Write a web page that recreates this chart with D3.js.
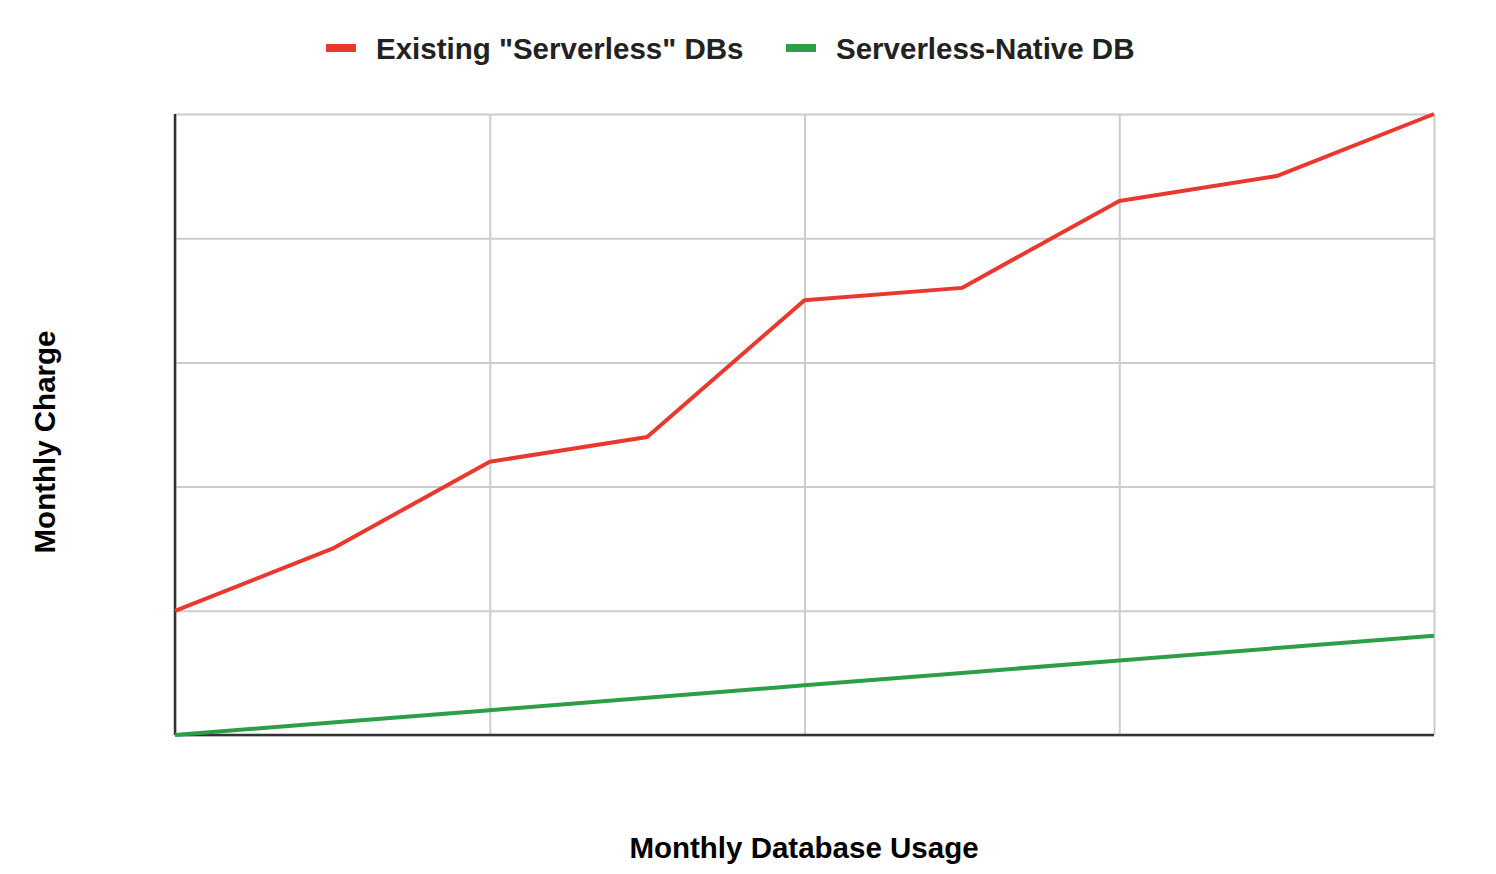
<!DOCTYPE html>
<html><head><meta charset="utf-8">
<script src="https://cdn.jsdelivr.net/npm/d3@7"></script>
<style>body{margin:0;background:#fff}svg{display:block;font-family:"Liberation Sans",Arial,sans-serif}</style>
</head><body><svg id="c" width="1496" height="874"></svg>
<script>
const xSteps = [0,1,2,3,4,5,6,7,8];
const existing = [1.0,1.5,2.2,2.4,3.5,3.6,4.3,4.5,5.0];
const native = [0,0.1,0.2,0.3,0.4,0.5,0.6,0.7,0.8];
const seriesNames = ['Existing "Serverless" DBs','Serverless-Native DB'];
const seriesColors = ['#e8392f','#2d9e47'];
const xGridTicks = [0,2,4,6,8];
const yGridTicks = [0,1,2,3,4,5];

const svg = d3.select('#c');
const m = {l:175,r:1434,t:114,b:735};
const x = d3.scaleLinear().domain([0,8]).range([m.l,m.r]);
const y = d3.scaleLinear().domain([0,5]).range([m.b,m.t]);

const g = svg.append('g');
g.append('g').attr('transform',`translate(0,${m.b})`)
 .call(d3.axisBottom(x).tickValues(xGridTicks).tickSize(-(m.b-m.t)).tickFormat(''))
 .call(s=>{s.select('.domain').remove();s.selectAll('line').attr('stroke','#cccccc').attr('stroke-width',2);});
g.append('g').attr('transform',`translate(${m.l},0)`)
 .call(d3.axisLeft(y).tickValues(yGridTicks).tickSize(-(m.r-m.l)).tickFormat(''))
 .call(s=>{s.select('.domain').remove();s.selectAll('line').attr('stroke','#cccccc').attr('stroke-width',2);});

g.append('line').attr('x1',m.l).attr('x2',m.r).attr('y1',m.b).attr('y2',m.b).attr('stroke','#333').attr('stroke-width',2.5);
g.append('line').attr('x1',m.l).attr('x2',m.l).attr('y1',m.t).attr('y2',m.b).attr('stroke','#333').attr('stroke-width',2.5);

const line = d3.line().x((d,i)=>x(xSteps[i])).y(d=>y(d));
[existing,native].forEach((s,i)=>{
  g.append('path').datum(s).attr('d',line).attr('fill','none')
   .attr('stroke',seriesColors[i]).attr('stroke-width',4).attr('stroke-linejoin','round');
});

const legX = [326,786];
seriesNames.forEach((n,i)=>{
  svg.append('rect').attr('x',legX[i]).attr('y',44).attr('width',30).attr('height',8).attr('fill',seriesColors[i]);
  svg.append('text').attr('x',legX[i]+50).attr('y',59).attr('font-size',29.5).attr('font-weight','bold')
   .attr('fill','#222').text(n);
});

svg.append('text').attr('x',804).attr('y',858).attr('text-anchor','middle')
 .attr('font-size',29.5).attr('font-weight','bold').attr('fill','#000').text('Monthly Database Usage');
svg.append('text').attr('transform','translate(55,442) rotate(-90)').attr('text-anchor','middle')
 .attr('font-size',29.5).attr('font-weight','bold').attr('fill','#000').text('Monthly Charge');
</script></body></html>
